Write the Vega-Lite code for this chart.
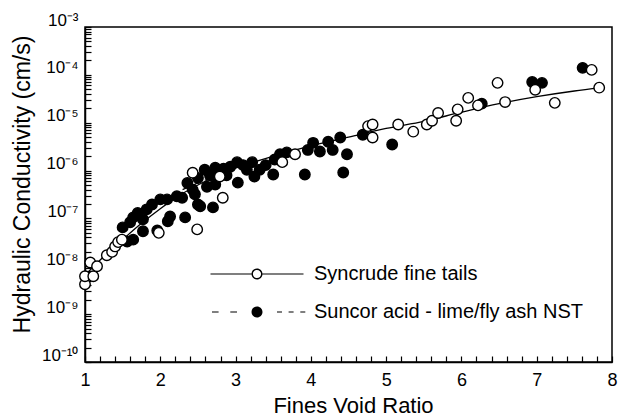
{
  "$schema": "https://vega.github.io/schema/vega-lite/v6.json",
  "width": 527,
  "height": 335,
  "autosize": "none",
  "padding": {"left": 85, "top": 27, "right": 6, "bottom": 56},
  "background": "white",
  "config": {
    "font": "Liberation Sans",
    "view": {"stroke": "black", "strokeWidth": 1.5},
    "axis": {"domainColor": "black", "domainWidth": 1.5, "tickColor": "black", "tickWidth": 1.2, "labelColor": "black", "titleColor": "black", "grid": false, "titleFontWeight": "normal"}
  },
  "datasets": {
    "pts": [
      {"x": 1.50, "k": 6.5e-8, "s": "Suncor acid - lime/fly ash NST"},
      {"x": 1.56, "k": 3.3e-8, "s": "Suncor acid - lime/fly ash NST"},
      {"x": 1.60, "k": 8.3e-8, "s": "Suncor acid - lime/fly ash NST"},
      {"x": 1.64, "k": 1.05e-7, "s": "Suncor acid - lime/fly ash NST"},
      {"x": 1.64, "k": 3.6e-8, "s": "Suncor acid - lime/fly ash NST"},
      {"x": 1.70, "k": 1.3e-7, "s": "Suncor acid - lime/fly ash NST"},
      {"x": 1.77, "k": 9.6e-8, "s": "Suncor acid - lime/fly ash NST"},
      {"x": 1.77, "k": 5.4e-8, "s": "Suncor acid - lime/fly ash NST"},
      {"x": 1.82, "k": 1.55e-7, "s": "Suncor acid - lime/fly ash NST"},
      {"x": 1.89, "k": 1.95e-7, "s": "Suncor acid - lime/fly ash NST"},
      {"x": 1.96, "k": 5.6e-8, "s": "Suncor acid - lime/fly ash NST"},
      {"x": 2.00, "k": 2.5e-7, "s": "Suncor acid - lime/fly ash NST"},
      {"x": 2.09, "k": 2.5e-7, "s": "Suncor acid - lime/fly ash NST"},
      {"x": 2.10, "k": 8.7e-8, "s": "Suncor acid - lime/fly ash NST"},
      {"x": 2.13, "k": 1.1e-7, "s": "Suncor acid - lime/fly ash NST"},
      {"x": 2.22, "k": 2.9e-7, "s": "Suncor acid - lime/fly ash NST"},
      {"x": 2.29, "k": 2.7e-7, "s": "Suncor acid - lime/fly ash NST"},
      {"x": 2.33, "k": 1.05e-7, "s": "Suncor acid - lime/fly ash NST"},
      {"x": 2.36, "k": 5.5e-7, "s": "Suncor acid - lime/fly ash NST"},
      {"x": 2.43, "k": 4.0e-7, "s": "Suncor acid - lime/fly ash NST"},
      {"x": 2.46, "k": 3.2e-7, "s": "Suncor acid - lime/fly ash NST"},
      {"x": 2.50, "k": 1.95e-7, "s": "Suncor acid - lime/fly ash NST"},
      {"x": 2.53, "k": 1.8e-7, "s": "Suncor acid - lime/fly ash NST"},
      {"x": 2.50, "k": 7.0e-7, "s": "Suncor acid - lime/fly ash NST"},
      {"x": 2.59, "k": 1.04e-6, "s": "Suncor acid - lime/fly ash NST"},
      {"x": 2.62, "k": 4.6e-7, "s": "Suncor acid - lime/fly ash NST"},
      {"x": 2.66, "k": 8.0e-7, "s": "Suncor acid - lime/fly ash NST"},
      {"x": 2.70, "k": 1.7e-7, "s": "Suncor acid - lime/fly ash NST"},
      {"x": 2.73, "k": 1.15e-6, "s": "Suncor acid - lime/fly ash NST"},
      {"x": 2.73, "k": 5.1e-7, "s": "Suncor acid - lime/fly ash NST"},
      {"x": 2.84, "k": 1.1e-6, "s": "Suncor acid - lime/fly ash NST"},
      {"x": 2.88, "k": 8.0e-7, "s": "Suncor acid - lime/fly ash NST"},
      {"x": 2.93, "k": 1.2e-6, "s": "Suncor acid - lime/fly ash NST"},
      {"x": 3.02, "k": 1.5e-6, "s": "Suncor acid - lime/fly ash NST"},
      {"x": 3.03, "k": 5.6e-7, "s": "Suncor acid - lime/fly ash NST"},
      {"x": 3.10, "k": 1.3e-6, "s": "Suncor acid - lime/fly ash NST"},
      {"x": 3.15, "k": 1.04e-6, "s": "Suncor acid - lime/fly ash NST"},
      {"x": 3.22, "k": 1.5e-6, "s": "Suncor acid - lime/fly ash NST"},
      {"x": 3.25, "k": 7.5e-7, "s": "Suncor acid - lime/fly ash NST"},
      {"x": 3.32, "k": 1.04e-6, "s": "Suncor acid - lime/fly ash NST"},
      {"x": 3.40, "k": 1.3e-6, "s": "Suncor acid - lime/fly ash NST"},
      {"x": 3.50, "k": 8.3e-7, "s": "Suncor acid - lime/fly ash NST"},
      {"x": 3.52, "k": 1.7e-6, "s": "Suncor acid - lime/fly ash NST"},
      {"x": 3.59, "k": 2.2e-6, "s": "Suncor acid - lime/fly ash NST"},
      {"x": 3.68, "k": 2.4e-6, "s": "Suncor acid - lime/fly ash NST"},
      {"x": 3.92, "k": 8.3e-7, "s": "Suncor acid - lime/fly ash NST"},
      {"x": 3.96, "k": 2.7e-6, "s": "Suncor acid - lime/fly ash NST"},
      {"x": 4.03, "k": 3.8e-6, "s": "Suncor acid - lime/fly ash NST"},
      {"x": 4.12, "k": 2.5e-6, "s": "Suncor acid - lime/fly ash NST"},
      {"x": 4.23, "k": 4.0e-6, "s": "Suncor acid - lime/fly ash NST"},
      {"x": 4.29, "k": 2.7e-6, "s": "Suncor acid - lime/fly ash NST"},
      {"x": 4.39, "k": 4.9e-6, "s": "Suncor acid - lime/fly ash NST"},
      {"x": 4.48, "k": 2.2e-6, "s": "Suncor acid - lime/fly ash NST"},
      {"x": 4.43, "k": 9.1e-7, "s": "Suncor acid - lime/fly ash NST"},
      {"x": 4.69, "k": 5.6e-6, "s": "Suncor acid - lime/fly ash NST"},
      {"x": 5.08, "k": 3.5e-6, "s": "Suncor acid - lime/fly ash NST"},
      {"x": 6.27, "k": 2.5e-5, "s": "Suncor acid - lime/fly ash NST"},
      {"x": 6.94, "k": 7.1e-5, "s": "Suncor acid - lime/fly ash NST"},
      {"x": 7.07, "k": 6.8e-5, "s": "Suncor acid - lime/fly ash NST"},
      {"x": 7.61, "k": 1.4e-4, "s": "Suncor acid - lime/fly ash NST"},
      {"x": 1.00, "k": 4.2e-9, "s": "Syncrude fine tails"},
      {"x": 1.00, "k": 6.2e-9, "s": "Syncrude fine tails"},
      {"x": 1.07, "k": 1.2e-8, "s": "Syncrude fine tails"},
      {"x": 1.11, "k": 6.2e-9, "s": "Syncrude fine tails"},
      {"x": 1.16, "k": 1.0e-8, "s": "Syncrude fine tails"},
      {"x": 1.29, "k": 1.7e-8, "s": "Syncrude fine tails"},
      {"x": 1.36, "k": 2.0e-8, "s": "Syncrude fine tails"},
      {"x": 1.40, "k": 2.6e-8, "s": "Syncrude fine tails"},
      {"x": 1.44, "k": 3.2e-8, "s": "Syncrude fine tails"},
      {"x": 1.49, "k": 3.6e-8, "s": "Syncrude fine tails"},
      {"x": 1.98, "k": 5.0e-8, "s": "Syncrude fine tails"},
      {"x": 2.43, "k": 9.0e-7, "s": "Syncrude fine tails"},
      {"x": 2.49, "k": 5.9e-8, "s": "Syncrude fine tails"},
      {"x": 2.79, "k": 7.5e-7, "s": "Syncrude fine tails"},
      {"x": 2.83, "k": 2.7e-7, "s": "Syncrude fine tails"},
      {"x": 3.62, "k": 1.5e-6, "s": "Syncrude fine tails"},
      {"x": 3.79, "k": 2.2e-6, "s": "Syncrude fine tails"},
      {"x": 4.76, "k": 8.5e-6, "s": "Syncrude fine tails"},
      {"x": 4.82, "k": 9.2e-6, "s": "Syncrude fine tails"},
      {"x": 4.82, "k": 4.9e-6, "s": "Syncrude fine tails"},
      {"x": 5.16, "k": 9.2e-6, "s": "Syncrude fine tails"},
      {"x": 5.36, "k": 6.5e-6, "s": "Syncrude fine tails"},
      {"x": 5.54, "k": 9.2e-6, "s": "Syncrude fine tails"},
      {"x": 5.61, "k": 1.1e-5, "s": "Syncrude fine tails"},
      {"x": 5.69, "k": 1.6e-5, "s": "Syncrude fine tails"},
      {"x": 5.93, "k": 1.1e-5, "s": "Syncrude fine tails"},
      {"x": 5.95, "k": 1.9e-5, "s": "Syncrude fine tails"},
      {"x": 6.09, "k": 3.3e-5, "s": "Syncrude fine tails"},
      {"x": 6.22, "k": 2.3e-5, "s": "Syncrude fine tails"},
      {"x": 6.48, "k": 6.8e-5, "s": "Syncrude fine tails"},
      {"x": 6.58, "k": 2.7e-5, "s": "Syncrude fine tails"},
      {"x": 6.98, "k": 4.9e-5, "s": "Syncrude fine tails"},
      {"x": 7.24, "k": 2.6e-5, "s": "Syncrude fine tails"},
      {"x": 7.73, "k": 1.27e-4, "s": "Syncrude fine tails"},
      {"x": 7.83, "k": 5.4e-5, "s": "Syncrude fine tails"}
    ],
    "fitA": [
      {"x": 1.0, "k": 6.5e-9},
      {"x": 1.25, "k": 1.6e-8},
      {"x": 1.5, "k": 3.6e-8},
      {"x": 1.75, "k": 7.9e-8},
      {"x": 2.0, "k": 1.6e-7},
      {"x": 2.25, "k": 3.0e-7},
      {"x": 2.5, "k": 5.0e-7},
      {"x": 2.75, "k": 7.8e-7},
      {"x": 3.0, "k": 1.12e-6},
      {"x": 3.5, "k": 2.0e-6},
      {"x": 4.0, "k": 3.3e-6},
      {"x": 4.5, "k": 5.0e-6},
      {"x": 5.0, "k": 7.6e-6},
      {"x": 5.5, "k": 1.07e-5},
      {"x": 6.0, "k": 1.66e-5},
      {"x": 6.5, "k": 2.5e-5},
      {"x": 7.0, "k": 3.5e-5},
      {"x": 7.5, "k": 4.6e-5},
      {"x": 7.85, "k": 5.4e-5}
    ],
    "fitB": [
      {"x": 1.5, "k": 6.0e-8},
      {"x": 2.0, "k": 2.3e-7},
      {"x": 2.5, "k": 5.5e-7},
      {"x": 3.0, "k": 1.05e-6},
      {"x": 3.5, "k": 1.7e-6},
      {"x": 3.8, "k": 2.1e-6}
    ]
  },
  "encoding": {
    "x": {
      "field": "x", "type": "quantitative",
      "scale": {"domain": [1, 8], "nice": false, "zero": false},
      "axis": {
        "title": "Fines Void Ratio", "titleFontSize": 22, "titleY": 43, "titleX": 268, "titleBaseline": "middle",
        "values": [1, 1.2, 1.4, 1.6, 1.8, 2, 2.2, 2.4, 2.6, 2.8, 3, 3.2, 3.4, 3.6, 3.8, 4, 4.2, 4.4, 4.6, 4.8, 5, 5.2, 5.4, 5.6, 5.8, 6, 6.2, 6.4, 6.6, 6.8, 7, 7.2, 7.4, 7.6, 7.8, 8],
        "labelExpr": "abs(datum.value - round(datum.value)) < 0.01 ? format(datum.value, 'd') : ''",
        "labelFontSize": 18, "labelPadding": 15, "tickSize": -6, "labelOverlap": false, "labelFlush": false,
        "encode": {"ticks": {"update": {"y2": {"signal": "abs(datum.value - round(datum.value)) < 0.01 ? -12 : -6"}}}}
      }
    },
    "y": {
      "field": "k", "type": "quantitative",
      "scale": {"type": "log", "domain": [1e-10, 1e-3], "nice": false},
      "axis": {
        "title": "Hydraulic Conductivity (cm/s)", "titleFontSize": 23, "titleX": -63, "titleY": 157, "titleAlign": "center", "titleBaseline": "middle",
        "values": [1e-10, 2e-10, 3e-10, 4e-10, 5e-10, 6e-10, 7e-10, 8e-10, 9e-10, 1e-9, 2e-9, 3e-9, 4e-9, 5e-9, 6e-9, 7e-9, 8e-9, 9e-9, 1e-8, 2e-8, 3e-8, 4e-8, 5e-8, 6e-8, 7e-8, 8e-8, 9e-8, 1e-7, 2e-7, 3e-7, 4e-7, 5e-7, 6e-7, 7e-7, 8e-7, 9e-7, 1e-6, 2e-6, 3e-6, 4e-6, 5e-6, 6e-6, 7e-6, 8e-6, 9e-6, 1e-5, 2e-5, 3e-5, 4e-5, 5e-5, 6e-5, 7e-5, 8e-5, 9e-5, 1e-4, 2e-4, 3e-4, 4e-4, 5e-4, 6e-4, 7e-4, 8e-4, 9e-4, 1e-3],
        "labelExpr": "abs(log(datum.value)/LN10 - round(log(datum.value)/LN10)) < 0.001 ? '10⁻' + (round(-log(datum.value)/LN10) >= 10 ? '¹⁰' : substring('⁰¹²³⁴⁵⁶⁷⁸⁹', round(-log(datum.value)/LN10), round(-log(datum.value)/LN10) + 1)) : ''",
        "labelFontSize": 17, "labelBaseline": "alphabetic", "labelOffset": -2, "labelPadding": 13, "tickSize": -6, "labelOverlap": false, "labelFlush": false,
        "encode": {"ticks": {"update": {
          "x": {"signal": "abs(log(datum.value)/LN10 - round(log(datum.value)/LN10)) < 0.001 ? -3 : 0"},
          "x2": {"signal": "abs(log(datum.value)/LN10 - round(log(datum.value)/LN10)) < 0.001 ? 10 : 6"}
        }}}
      }
    }
  },
  "layer": [
    {
      "data": {"name": "fitA"},
      "mark": {"type": "line", "color": "black", "strokeWidth": 1.3, "interpolate": "monotone"},
      "encoding": {}
    },
    {
      "data": {"name": "fitB"},
      "mark": {"type": "line", "color": "black", "strokeWidth": 1.3, "interpolate": "monotone", "strokeDash": [6, 6]},
      "encoding": {}
    },
    {
      "data": {"name": "pts"},
      "transform": [{"filter": "datum.s == 'Suncor acid - lime/fly ash NST'"}],
      "mark": {"type": "circle", "size": 110, "fill": "black", "stroke": "black", "strokeWidth": 1.4, "opacity": 1}
    },
    {
      "data": {"name": "pts"},
      "transform": [{"filter": "datum.s == 'Syncrude fine tails'"}],
      "mark": {"type": "circle", "size": 110, "fill": "white", "stroke": "black", "strokeWidth": 1.4, "opacity": 1}
    },
    {
      "data": {"name": "pts"},
      "transform": [{"filter": "datum.x < 0"}],
      "mark": {"type": "point", "filled": true, "color": "black", "strokeWidth": 0, "opacity": 1},
      "encoding": {
        "shape": {
          "field": "s", "type": "nominal",
          "scale": {"domain": ["Syncrude fine tails", "Suncor acid - lime/fly ash NST"], "range": [
            "M-4.65,-0.06L-0.55,-0.06L-0.55,0.06L-4.65,0.06Z M0.55,-0.06L4.65,-0.06L4.65,0.06L0.55,0.06Z M-0.55,0A0.55,0.55,0,1,1,0.55,0A0.55,0.55,0,1,1,-0.55,0Z M-0.41,0A0.41,0.41,0,1,0,0.41,0A0.41,0.41,0,1,0,-0.41,0Z",
            "M-4.5,-0.06L-3.84,-0.06L-3.84,0.06L-4.5,0.06Z M-2.67,-0.06L-2.0,-0.06L-2.0,0.06L-2.67,0.06Z M2.0,-0.06L2.5,-0.06L2.5,0.06L2.0,0.06Z M3.16,-0.06L3.66,-0.06L3.66,0.06L3.16,0.06Z M4.33,-0.06L4.83,-0.06L4.83,0.06L4.33,0.06Z M-0.55,0A0.55,0.55,0,1,1,0.55,0A0.55,0.55,0,1,1,-0.55,0Z"
          ]},
          "legend": {
            "title": null, "orient": "none", "legendX": 162, "legendY": 237, "direction": "vertical", "padding": 0,
            "symbolSize": 400, "symbolFillColor": "black", "symbolStrokeWidth": 0, "symbolOffset": 0,
            "labelOffset": 47, "labelFontSize": 20, "labelFont": "Liberation Sans", "labelColor": "black", "labelLimit": 400,
            "rowPadding": 18, "labelBaseline": "middle"
          }
        }
      }
    }
  ]
}
